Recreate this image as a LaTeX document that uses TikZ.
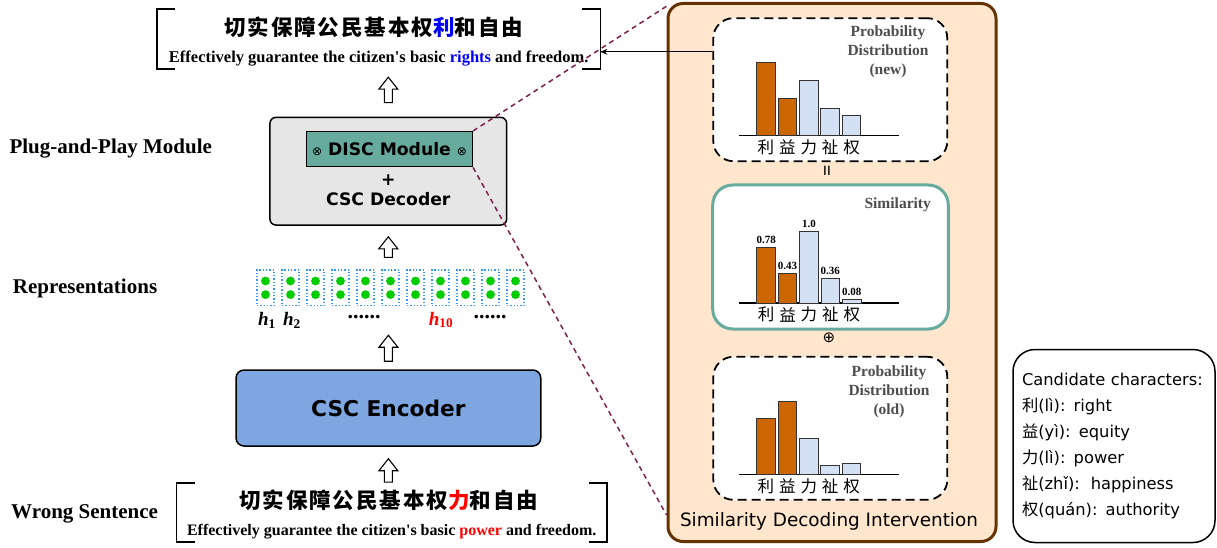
\documentclass[tikz,border=0pt]{standalone}
\usepackage{amsmath}
\usepackage{fontspec}
\usetikzlibrary{calc,arrows.meta}
\setmainfont{Liberation Serif}
\newfontfamily\tnr{Liberation Serif}
\newfontfamily\cjk{Noto Sans CJK SC}
\newfontfamily\cjkwide[LetterSpace=9]{Noto Sans CJK SC}
\newfontfamily\comic{DejaVu Sans}
\definecolor{decgray}{HTML}{E6E6E6}
\definecolor{discteal}{HTML}{67AB9F}
\definecolor{encblue}{HTML}{7EA6E0}
\definecolor{peach}{HTML}{FFE6CC}
\definecolor{panelbrown}{HTML}{663300}
\definecolor{barorange}{HTML}{CC6600}
\definecolor{barblue}{HTML}{D4E1F5}
\definecolor{bargray}{HTML}{333333}
\definecolor{dotgreen}{HTML}{00CC00}
\definecolor{repblue}{HTML}{3399FF}
\definecolor{zoomred}{HTML}{7F1F4F}
\definecolor{titlegray}{HTML}{4D4D4D}
\definecolor{rightblue}{HTML}{0000FF}
\newcommand{\hollowup}[2]{%
  \draw[fill=white,line width=1.1] let \p1=(#1), \p2=(#2) in
    (\x1-4pt,\y1) -- (\x1-4pt,\y2-12pt) -- (\x1-9.5pt,\y2-12pt) -- (\x1,\y2)
    -- (\x1+9.5pt,\y2-12pt) -- (\x1+4pt,\y2-12pt) -- (\x1+4pt,\y1) -- cycle;}
\newcommand{\drawbars}[2]{%
  \draw[line width=1.2] ($(#1.center)+(-91.3,46)$) -- ($(#1.center)+(68.7,46)$);
  \foreach \h [count=\k] in {#2}{%
    \ifnum\k<3 \def\bc{barorange}\else\def\bc{barblue}\fi
    \draw[fill=\bc,draw=bargray,line width=1] ($(#1.center)+(-95+21.4*\k,46)$) rectangle ++(18.5,-\h);
  }
  \foreach \c [count=\k] in {利,益,力,祉,权}
    \node[barchar] at ($(#1.center)+(-85.75+21.4*\k,57.5)$) {\c};
}
\newcommand{\hvec}[1]{{\tnr\bfseries\itshape h}\textsubscript{\tnr\bfseries #1}}
\newcommand{\otm}{{\comic\mdseries\fontsize{12}{12}\selectfont ⊗}}
\begin{document}
\begin{tikzpicture}[x=1pt,y=-1pt,
  lbl/.style={font=\bfseries\fontsize{21}{24}\selectfont,anchor=west,inner sep=0},
  bracket/.style={line width=1.6},
  zh/.style={font=\cjkwide\bfseries\fontsize{21.5}{24}\selectfont},
  en/.style={font=\tnr\bfseries\fontsize{16.5}{19}\selectfont},
  box/.style={draw,line width=1.5,rounded corners=6},
  rep/.style={draw=repblue,dotted,line width=1.3,minimum width=17,minimum height=35.7,inner sep=0},
  hlab/.style={font=\fontsize{19}{20}\selectfont},
  panel/.style={draw,fill=white,line width=1.8,rounded corners=20,minimum width=234,minimum height=143},
  dashbox/.style={dash pattern=on 9pt off 5pt},
  barchar/.style={font=\cjk\fontsize{16.5}{18}\selectfont,inner sep=0},
  ptitle/.style={font=\bfseries\fontsize{15.5}{19}\selectfont,text=titlegray,align=center},
  val/.style={font=\bfseries\fontsize{11}{12}\selectfont,inner sep=0},
  zoomline/.style={draw=zoomred,dash pattern=on 5pt off 4pt,line width=1.5}]
\useasboundingbox (0,0) rectangle (1217,548);

\node[minimum width=443,minimum height=60,inner sep=0] (out) at (378.7,39) {};
\draw[bracket] ([xshift=18]out.north west) -- (out.north west) -- (out.south west) -- ++(18,0);
\draw[bracket] ([xshift=-18]out.north east) -- (out.north east) -- (out.south east) -- ++(-18,0);
\node[zh] (outzh) at ($(out.center)+(-5,-12)$) {切实保障公民基本权{\color{rightblue}利}和自由};
\node[en] (outen) at ($(out.center)+(0,20)$) {Effectively guarantee the citizen's basic {\color{rightblue}rights} and freedom.};

\node[minimum width=430,minimum height=58.4,inner sep=0] (inp) at (391.7,512.5) {};
\draw[bracket] ([xshift=18]inp.north west) -- (inp.north west) -- (inp.south west) -- ++(18,0);
\draw[bracket] ([xshift=-18]inp.north east) -- (inp.north east) -- (inp.south east) -- ++(-18,0);
\node[zh] (inpzh) at ($(inp.center)+(-3,-12.5)$) {切实保障公民基本权{\color{red}力}和自由};
\node[en,font=\tnr\bfseries\fontsize{16}{19}\selectfont] (inpen) at ($(inp.center)+(0,19.5)$) {Effectively guarantee the citizen's basic {\color{red}power} and freedom.};

\node[box,fill=decgray,minimum width=236.7,minimum height=107.7] (dec) at (388.3,171.2) {};
\node[draw,line width=1.5,fill=discteal,minimum width=165.6,minimum height=35,font=\comic\bfseries\fontsize{17.2}{20}\selectfont] (disc) at (389.5,149.2) {\otm{} DISC Module \otm};
\node[font=\comic\bfseries\fontsize{17.2}{19.5}\selectfont,align=center] (decl) at (388.3,190) {+\\CSC Decoder};

\foreach \i in {1,...,11} {
  \node[rep] (h\i) at (240.5+25*\i,287.8) {};
  \fill[dotgreen] ($(h\i.center)+(0,-6.8)$) circle (4.4pt) ($(h\i.center)+(0,6.8)$) circle (4.4pt);
}
\node[hlab] (l1) at (267,320) {\hvec{1}};
\node[hlab] (l2) at (292,320) {\hvec{2}};
\node[hlab,font=\bfseries\fontsize{22}{22}\selectfont] (d1) at (364,317) {......};
\node[hlab,text=red] (l10) at (441,320) {\hvec{10}};
\node[hlab,font=\bfseries\fontsize{22}{22}\selectfont] (d2) at (490,317) {......};

\node[box,rounded corners=8,fill=encblue,minimum width=304.7,minimum height=76,font=\comic\bfseries\fontsize{21.7}{24}\selectfont] (enc) at (388.4,408) {CSC Encoder};

\node[lbl] (ppm) at (9.3,148.5) {Plug-and-Play Module};
\node[lbl] (rps) at (12.7,288.5) {Representations};
\node[lbl] (wsn) at (11,513.5) {Wrong Sentence};

\hollowup{$(dec.north)+(0,-14)$}{$(out.south)+(0,8)$}
\hollowup{$(dec.south |- h6.north)+(0,-12)$}{$(dec.south)+(0,11)$}
\hollowup{$(enc.north)+(0,-8)$}{$(enc.north)+(0,-34)$}
\hollowup{$(enc.south |- inp.north)+(0,-1)$}{$(enc.south)+(0,12)$}

\node[draw=panelbrown,fill=peach,line width=3,rounded corners=15,minimum width=328,minimum height=538] (sdi) at (832,272.5) {};
\node[font=\comic\fontsize{18.4}{20}\selectfont] (sdit) at (829,521) {Similarity Decoding Intervention};
\node[panel,dashbox] (pnew) at (830.3,89.7) {};
\node[panel,draw=discteal,line width=3,minimum width=235.6,minimum height=144] (sim) at (830.5,257) {};
\node[panel,dashbox] (pold) at (830.3,428.3) {};
\drawbars{pnew}{73.5,37.5,55.5,27.2,19.8}
\drawbars{sim}{55.3,30,71.6,25,4}
\drawbars{pold}{55.7,73.3,35.7,9,10.7}
\node[ptitle] at ($(pnew.center)+(57.7,-37.7)$) {Probability\\Distribution\\(new)};
\node[ptitle] at ($(pold.center)+(58.7,-36.6)$) {Probability\\Distribution\\(old)};
\node[ptitle] at ($(sim.center)+(67.2,-52.7)$) {Similarity};
\foreach \v/\h [count=\k] in {0.78/55.3,0.43/30,1.0/71.6,0.36/25,0.08/4}
  \node[val] at ($(sim.center)+(-85.75+21.4*\k,38.5-\h)$) {\v};
\node[rotate=90,font=\bfseries\fontsize{20}{20}\selectfont] (eq) at (829,171) {=};
\node[font=\comic\fontsize{15}{15}\selectfont] (plus) at (829,338) {⊕};

\coordinate (arr) at ($(pnew.north west)+(0,34.5)$);
\draw[-{Stealth[length=7pt,width=6pt]},line width=0.8] (arr) -- (out.east |- arr);

\draw[zoomline] (disc.north east) -- ($(sdi.north west)+(2,3)$);
\draw[zoomline] (disc.south east) -- ($(sdi.south west)+(0,-28)$);

\node[draw,line width=1.5,rounded corners=22,minimum width=202,minimum height=193,text width=184,align=left,font=\comic\fontsize{16.3}{26}\selectfont] (cand) at (1114,446) {Candidate characters:\\
{\cjk 利}(lì): right\\
{\cjk 益}(yì): equity\\
{\cjk 力}(lì): power\\
{\cjk 祉}(zhǐ):~~happiness\\
{\cjk 权}(quán): authority};
\end{tikzpicture}
\end{document}
